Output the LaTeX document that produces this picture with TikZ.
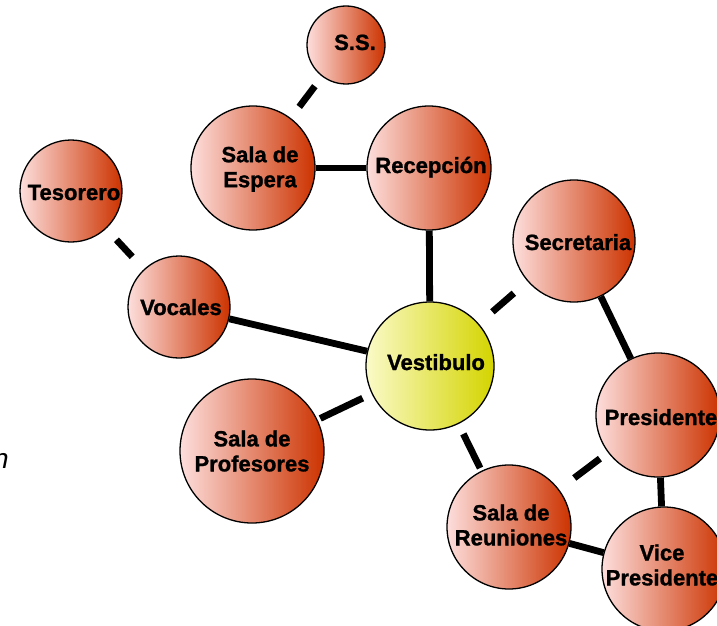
\documentclass[tikz,border=0pt]{standalone}
\usepackage{fontspec}
\setmainfont{Liberation Sans}
\newfontfamily\lblfont{Liberation Sans}[BoldFeatures={FakeBold=1.2}]
\definecolor{lpink}{RGB}{253,222,220}
\definecolor{dred}{RGB}{204,51,0}
\definecolor{lyel}{RGB}{250,250,200}
\definecolor{dyel}{RGB}{212,212,0}
\begin{document}
\begin{tikzpicture}[x=1pt,y=-1pt,
  room/.style={circle, draw=black, line width=1.3pt, inner sep=0pt, left color=lpink, right color=dred},
  hall/.style={circle, draw=black, line width=1.3pt, inner sep=0pt, left color=lyel, right color=dyel},
  lbl/.style={font=\lblfont\bfseries\fontsize{22}{25}\selectfont, align=center, inner sep=0pt},
  link/.style={line width=6.8pt}]
\clip (0,0) rectangle (717,626);
% circles
\node[room, minimum size=78pt]  (ss)  at (346,45)  {};
\node[room, minimum size=124pt] (esp) at (253,168) {};
\node[room, minimum size=124pt] (rec) at (429,168) {};
\node[room, minimum size=102pt] (tes) at (71,191)  {};
\node[room, minimum size=102pt] (voc) at (179,307) {};
\node[hall, minimum size=128pt] (ves) at (430,366) {};
\node[room, minimum size=122pt] (sec) at (574,241) {};
\node[room, minimum size=124pt] (pre) at (658,415) {};
\node[room, minimum size=124pt] (reu) at (509,527) {};
\node[room, minimum size=124pt] (vic) at (664,569) {};
\node[room, minimum size=144pt] (pro) at (252,451) {};
% connectors
\draw[link, shorten <=12pt, shorten >=14pt] (ss) -- (esp);
\draw[link] (esp) -- (rec);
\draw[link] (rec) -- (ves);
\draw[link, shorten <=15pt, shorten >=17pt] (tes) -- (voc);
\draw[link] (voc) -- (ves);
\draw[link, shorten <=18pt, shorten >=18pt] (ves) -- (sec);
\draw[link, shorten <=10pt, shorten >=3pt] (ves) -- (pro);
\draw[link, shorten <=11pt, shorten >=3pt] (ves) -- (reu);
\draw[link, shorten <=19pt, shorten >=10pt] (reu) -- (pre);
\draw[link] (sec) -- (pre);
\draw[link] (pre) -- (vic);
\draw[link] (reu) -- (vic);
% labels
\node[lbl, anchor=base] (tss)  at (355,50)  {S.S.};
\node[lbl] (tesp) at (260,169) {Sala de\\Espera};
\node[lbl, anchor=base] (trec) at (431,173) {Recepción};
\node[lbl, anchor=base] (ttes) at (74,200)  {Tesorero};
\node[lbl, anchor=base] (tvoc) at (181,315) {Vocales};
\node[lbl, anchor=base] (tves) at (436,370) {Vestibulo};
\node[lbl, anchor=base] (tsec) at (578,250) {Secretaria};
\node[lbl, anchor=base] (tpre) at (661,425) {Presidente};
\node[lbl] (treu) at (511,525) {Sala de\\Reuniones};
\node[lbl] (tvic) at (662,565) {Vice\\Presidente};
\node[lbl] (tpro) at (252,451) {Sala de\\Profesores};
\node[anchor=base west, inner sep=0pt, font=\itshape\fontsize{28}{30}\selectfont] (tn) at (-7,468) {n};
\end{tikzpicture}
\end{document}
